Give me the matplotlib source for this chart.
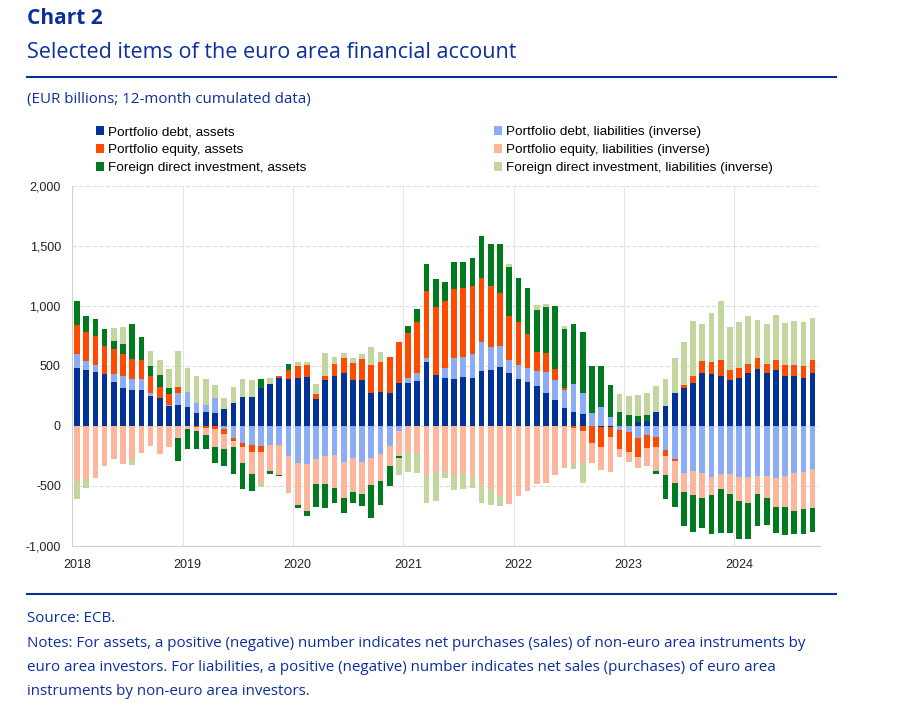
import numpy as np
import matplotlib
matplotlib.use("Agg")
import matplotlib.pyplot as plt
from matplotlib.ticker import FuncFormatter

# monthly data, Jan 2018 - Sep 2024 (EUR billions, 12-month cumulated)
years = ["2018", "2019", "2020", "2021", "2022", "2023", "2024"]

pd_assets = [480, 467, 453, 430, 364, 319, 300, 300, 253, 230, 170, 175,
             156, 106, 120, 111, 142, 189, 239, 244, 319, 350, 403, 392,
             397, 411, 225, 383, 419, 439, 383, 383, 278, 286, 278, 361,
             361, 375, 536, 425, 403, 392, 411, 403, 461, 467, 494, 439,
             392, 369, 333, 278, 217, 153, 119, 100, 0, -10, -10, 0,
             0, 36, 42, 114, 167, 272, 319, 356, 444, 431, 419, 383,
             403, 444, 475, 444, 467, 417, 419, 403, 439]
pd_liab = [120, 75, 58, 0, 70, 97, 92, 92, 20, 0, 6, 97,
           130, 89, 56, 120, -28, -103, -139, -158, -167, -158, -158, -250,
           -311, -317, -275, -250, -242, -303, -270, -303, -264, -233, -167, -39,
           36, 69, 33, 0, 78, 172, 167, 194, 236, 194, 175, 111,
           117, 117, 125, 175, 167, 147, 231, 172, 111, 156, 78, -33,
           -47, -103, -75, -94, -200, -278, -389, -372, -389, -428, -400, -400,
           -422, -428, -417, -417, -436, -417, -389, -381, -358]
pe_assets = [242, 245, 240, 239, 205, 180, 164, 158, 145, 97, 89, 56,
             0, -10, -20, -22, -39, -19, -39, -56, -53, 0, 14, 75,
             103, 97, 39, 36, 97, 131, 144, 175, 231, 250, 300, 342,
             375, 425, 558, 569, 561, 578, 575, 569, 539, 506, 436, 367,
             356, 278, 156, 153, 89, 19, -19, -42, -139, -161, -83, -158,
             -167, -153, -111, -83, -47, -11, 22, 64, 100, 106, 131, 83,
             83, 72, 94, 69, 83, 92, 89, 97, 111]
pe_liab = [-460, -445, -436, -333, -272, -320, -278, -228, -167, -233, -172, -97,
           -28, -33, -58, -150, -128, -50, -128, -189, -258, -214, -250, -311,
           -347, -392, -208, -233, -272, -300, -283, -264, -228, -222, -167, -211,
           -214, -222, -408, -389, -381, -408, -389, -417, -494, -522, -583, -653,
           -583, -542, -486, -478, -408, -353, -300, -269, -167, -194, -294, -64,
           -83, -92, -144, -194, -161, -189, -164, -203, -208, -147, -128, -167,
           -203, -211, -150, -181, -242, -261, -319, -314, -328]
fdi_assets = [200, 130, 139, 142, 72, 86, 292, 195, 78, 97, 50, -195,
              -161, -150, -111, -139, -139, -230, -222, -136, 69, -28, -6, 47,
              -28, -42, -195, -203, -131, -119, -92, -100, -278, -203, -167, -19,
              64, 106, 222, 228, 156, 222, 211, 236, 347, 350, 408, 406,
              372, 383, 353, 383, 528, 486, 497, 514, 392, 347, 264, 119,
              92, 50, 50, -28, -203, -200, -278, -311, -250, -325, -367, -322,
              -319, -306, -264, -228, -217, -231, -192, -206, -194]
fdi_liab = [-150, -75, 0, 0, 103, 145, -50, 0, 125, 125, 158, 300,
            200, 225, 214, 111, 94, 133, 153, 139, -28, 47, 0, 0,
            36, 28, 86, 192, 56, 36, 36, 39, 153, 83, 0, -139,
            -167, -167, -236, -233, -56, -125, -139, -97, -144, -139, -83, 28,
            0, 0, 42, 28, 0, 31, -36, -167, 0, 0, 0, 150,
            161, 172, 186, 219, 225, 297, 358, 458, 306, 408, 492, 361,
            383, 400, 314, 333, 375, 347, 369, 369, 347]

series = [
    ("Portfolio debt, assets", pd_assets, "#003299"),
    ("Portfolio debt, liabilities (inverse)", pd_liab, "#8cacf5"),
    ("Portfolio equity, assets", pe_assets, "#ff4b00"),
    ("Portfolio equity, liabilities (inverse)", pe_liab, "#fdb59c"),
    ("Foreign direct investment, assets", fdi_assets, "#007a1f"),
    ("Foreign direct investment, liabilities (inverse)", fdi_liab, "#c2d69e"),
]

text_blue = "#0b2f9e"

fig = plt.figure(figsize=(9, 7.28), dpi=100)
ax = fig.add_axes([72 / 900, 1 - 546 / 728, (820 - 72) / 900, (546 - 186) / 728])

x = np.arange(len(pd_assets))
pos_base = np.zeros(len(x))
neg_base = np.zeros(len(x))
handles = {}
for label, vals, color in series:
    v = np.array(vals, dtype=float)
    bottom = np.where(v >= 0, pos_base, neg_base)
    h = ax.bar(x, v, width=0.62, bottom=bottom, color=color, label=label,
               linewidth=0, zorder=3)
    handles[label] = h
    pos_base = pos_base + np.clip(v, 0, None)
    neg_base = neg_base + np.clip(v, None, 0)

# axes styling
ax.set_ylim(-1000, 2000)
ax.set_xlim(-0.55, 80.8)
ax.set_yticks(np.arange(-1000, 2001, 500))
ax.yaxis.set_major_formatter(FuncFormatter(lambda v, p: f"{int(v):,}"))
ax.grid(axis="y", color="#dcdcdc", linewidth=0.8, linestyle=(0, (4, 2)), zorder=0)

boundaries = [12 * i - 0.5 for i in range(1, 7)]
for b in boundaries:
    ax.axvline(b, color="#e6e6e6", linewidth=0.8, zorder=0)
ax.set_xticks([12 * i for i in range(len(years))])
ax.set_xticklabels(years)

for side in ["top", "right"]:
    ax.spines[side].set_visible(False)
for side in ["left", "bottom"]:
    ax.spines[side].set_color("#d0d0d0")
    ax.spines[side].set_linewidth(0.8)
ax.tick_params(length=0, labelsize=9, colors="#222222", pad=8)
ax.tick_params(axis="x", pad=9)
for t in ax.get_xticklabels() + ax.get_yticklabels():
    t.set_fontfamily("Liberation Sans")

# legend in two columns
left_items = ["Portfolio debt, assets", "Portfolio equity, assets",
              "Foreign direct investment, assets"]
right_items = ["Portfolio debt, liabilities (inverse)",
               "Portfolio equity, liabilities (inverse)",
               "Foreign direct investment, liabilities (inverse)"]
leg_kw = dict(loc="upper left", frameon=False, handlelength=0.6, handleheight=0.6,
              handletextpad=0.3, labelspacing=0.46, borderaxespad=0,
              borderpad=0, prop={"family": "Liberation Sans", "size": 9.7})
leg1 = fig.legend([handles[k] for k in left_items], left_items,
                  bbox_to_anchor=(96 / 900, 1 - 126 / 728), **leg_kw)
leg2 = fig.legend([handles[k] for k in right_items], right_items,
                  bbox_to_anchor=(494 / 900, 1 - 126 / 728), **leg_kw)

# titles and notes
fig.text(27 / 900, 1 - 18 / 728, "Chart 2", fontsize=15, fontweight="bold",
         color=text_blue, family="Open Sans", va="center")
fig.text(27 / 900, 1 - 52 / 728, "Selected items of the euro area financial account",
         fontsize=15.5, color=text_blue, family="Open Sans", va="center")
fig.add_artist(plt.Line2D([27 / 900, 836 / 900], [1 - 77 / 728, 1 - 77 / 728],
                          color="#0b2f9e", linewidth=1.5))
fig.text(27 / 900, 1 - 100 / 728, "(EUR billions; 12-month cumulated data)",
         fontsize=10.9, color=text_blue, family="Open Sans", va="center")

fig.add_artist(plt.Line2D([27 / 900, 836 / 900], [1 - 594 / 728, 1 - 594 / 728],
                          color="#0b2f9e", linewidth=1.5))
notes = [
    "Source: ECB.",
    "Notes: For assets, a positive (negative) number indicates net purchases (sales) of non-euro area instruments by",
    "euro area investors. For liabilities, a positive (negative) number indicates net sales (purchases) of euro area",
    "instruments by non-euro area investors.",
]
for i, line in enumerate(notes):
    fig.text(27 / 900, 1 - (619 + 24.3 * i) / 728, line, fontsize=10.9,
             color=text_blue, family="Open Sans", va="center")

fig.savefig("out.png", dpi=100, facecolor="white")
